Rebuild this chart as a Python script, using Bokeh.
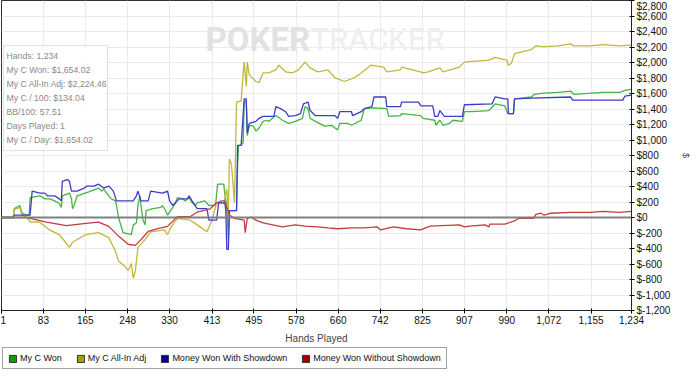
from bokeh.plotting import figure
from bokeh.layouts import column
from bokeh.models import (Range1d, FixedTicker, Span, Label, BoxAnnotation,
                          Legend, LegendItem)
from bokeh.embed import file_html
from bokeh.resources import INLINE

# ---------------- data ----------------
x_ticks = [1, 83, 165, 248, 330, 413, 495, 578, 660, 742, 825, 907, 990, 1072, 1155, 1234]
y_ticks = list(range(-1200, 2801, 200))

won_hands = [1, 24, 26, 37, 41, 51, 55, 57, 76, 86, 95, 105, 114, 118, 120, 130, 134, 138, 140, 143,
             149, 172, 191, 197, 201, 211, 216, 224, 226, 230, 239, 255, 259, 265, 268, 272, 274, 278,
             282, 284, 297, 313, 316, 322, 326, 332, 341, 345, 355, 361, 368, 374, 380, 384, 399, 407,
             420, 424, 436, 438, 442, 445, 447, 461, 463, 465, 470, 474, 476, 480, 482, 486, 494, 499,
             505, 513, 519, 524, 538, 551, 563, 576, 590, 595, 601, 605, 615, 634, 647, 659, 663, 678,
             686, 705, 711, 730, 755, 759, 782, 784, 821, 826, 849, 851, 859, 865, 878, 884, 903, 907,
             922, 955, 967, 986, 992, 1003, 1005, 1038, 1044, 1063, 1090, 1115, 1121, 1178, 1211, 1221,
             1234]
won_vals = [0, 0, 115, 155, 55, 30, 30, 255, 280, 240, 240, 215, 180, 130, 280, 305, 315, 240, 115, 155,
            280, 330, 380, 340, 365, 280, 240, 215, 155, 0, -195, -220, -95, -70, 155, 280, 155, -35,
            -95, 90, 115, 130, 155, 90, 30, 90, 180, 255, 240, 215, 255, 190, 155, 190, 215, 155,
            160, 430, 430, 315, 130, -285, 90, 90, 655, 930, 930, 965, 1490, 1505, 1055, 1190, 1180, 1115,
            1155, 1240, 1255, 1240, 1315, 1255, 1215, 1240, 1280, 1430, 1405, 1280, 1240, 1180, 1190, 1130, 1215, 1215,
            1190, 1255, 1405, 1415, 1405, 1305, 1315, 1340, 1315, 1280, 1255, 1190, 1255, 1190, 1215, 1255, 1240, 1365,
            1365, 1380, 1465, 1440, 1340, 1340, 1530, 1555, 1590, 1605, 1615, 1630, 1590, 1615, 1615, 1640,
            1654.02]

adj_hands = [1, 24, 26, 37, 41, 51, 57, 76, 95, 114, 124, 134, 140, 166, 191, 211, 224, 230, 243, 249,
             255, 259, 263, 268, 282, 293, 320, 326, 332, 345, 370, 384, 403, 413, 422, 436, 442, 445,
             447, 451, 457, 461, 470, 474, 476, 480, 482, 486, 499, 505, 513, 524, 538, 544, 557, 570,
             582, 595, 605, 620, 640, 653, 672, 692, 705, 724, 749, 755, 782, 784, 821, 826, 836, 859,
             865, 884, 897, 907, 922, 955, 967, 990, 993, 999, 1005, 1038, 1047, 1063, 1090, 1115, 1121,
             1153, 1178, 1211, 1234]
adj_vals = [0, 0, 100, 130, 30, 0, -55, -60, -160, -220, -300, -385, -320, -220, -195, -260, -435, -560, -635, -685,
            -595, -785, -685, -385, -285, -185, -160, -220, -135, -10, -35, -95, -185, -35, 190, 180, 365, 65,
            755, 690, 190, 1490, 1505, 1865, 2005, 1690, 2005, 1840, 1755, 1740, 1865, 1865, 1905, 1965, 1880, 1865,
            1905, 2005, 1930, 1880, 1905, 1805, 1755, 1805, 1865, 1965, 1940, 1880, 1905, 1940, 1880, 1865, 1880, 1930,
            1880, 1915, 1940, 2005, 2015, 2030, 2065, 2030, 1965, 1990, 2115, 2165, 2215, 2205, 2215, 2240, 2215,
            2215, 2230, 2215, 2224.46]

sd_hands = [1, 24, 26, 57, 61, 76, 86, 91, 105, 114, 118, 120, 130, 134, 138, 149, 163, 168, 182, 191,
            201, 211, 220, 226, 259, 265, 268, 274, 288, 293, 316, 326, 330, 336, 345, 349, 365, 368, 374,
            384, 403, 407, 422, 426, 438, 440, 442, 445, 447, 461, 463, 470, 476, 480, 482, 486, 499, 505,
            513, 534, 538, 547, 557, 563, 576, 586, 592, 601, 605, 615, 653, 659, 663, 686, 688, 705, 711,
            726, 730, 753, 755, 782, 784, 817, 822, 845, 849, 855, 859, 868, 903, 907, 961, 967, 986, 992,
            993, 1003, 1005, 1038, 1115, 1119, 1217, 1221, 1234]
sd_vals = [0, 0, 30, 30, 340, 315, 315, 280, 280, 240, 215, 465, 490, 465, 340, 340, 380, 405, 405, 430,
           380, 405, 340, 215, 215, 280, 340, 215, 215, 340, 315, 340, 215, 155, 215, 240, 240, 280, 215,
           115, 115, -35, -35, 190, 190, 90, -410, -410, 90, 90, 930, 930, 1530, 1530, 1090, 1215, 1240, 1280,
           1305, 1305, 1430, 1405, 1365, 1305, 1315, 1340, 1465, 1490, 1380, 1315, 1315, 1280, 1365, 1365, 1315, 1365, 1405,
           1430, 1555, 1555, 1430, 1430, 1490, 1490, 1440, 1440, 1305, 1305, 1380, 1305, 1305, 1455, 1465, 1555, 1530, 1530,
           1340, 1340, 1530, 1540, 1555, 1515, 1515, 1565, 1580]

nsd_hands = [1, 51, 57, 89, 128, 166, 191, 211, 230, 249, 263, 274, 288, 307, 326, 345, 370, 384, 409, 422,
             432, 438, 442, 447, 457, 476, 478, 482, 490, 499, 513, 532, 551, 576, 595, 620, 640, 659, 686,
             711, 736, 743, 768, 794, 821, 840, 897, 907, 917, 947, 955, 957, 986, 1005, 1013, 1042, 1047,
             1057, 1063, 1076, 1115, 1153, 1178, 1211, 1234]
nsd_vals = [0, 0, -10, -60, -105, -75, -60, -115, -240, -345, -360, -285, -180, -145, -115, 10, 10, 70, 110, 190,
            215, 215, 130, 30, -10, -35, -195, -10, 5, -35, -70, -95, -120, -95, -110, -120, -135, -145, -135,
            -135, -120, -160, -120, -145, -160, -110, -95, -120, -110, -95, -120, -85, -85, -45, -10, -10, 40,
            55, 30, 55, 65, 65, 80, 65, 79]

series_names = ["My C Won", "My C All-In Adj", "Money Won With Showdown", "Money Won Without Showdown"]
line_colors = ["#44b444", "#c0b83c", "#3c3cc8", "#c43c3c"]
legend_colors = ["#00a000", "#a0a000", "#0000a0", "#a00000"]

info_lines = ["Hands: 1,234", "My C Won: $1,654.02", "My C All-In Adj: $2,224.46",
              "My C / 100: $134.04", "BB/100: 57.51", "Days Played: 1", "My C / Day: $1,654.02"]

FONT = "Liberation Sans"
NAN = float("nan")

# ---------------- main figure ----------------
FW, FH = 630, 310
p = figure(frame_width=FW, frame_height=FH, x_range=Range1d(1, 1234), y_range=Range1d(-1200, 2800),
           output_backend="svg", toolbar_location=None, y_axis_location="right",
           min_border_left=1, min_border_top=0, min_border_right=2, min_border_bottom=0,
           background_fill_color="white", border_fill_color="white")
p.outline_line_color = "#333333"
p.outline_line_width = 1

p.xgrid.grid_line_color = "#ebebeb"
p.ygrid.grid_line_color = "#ebebeb"

xa = p.xaxis[0]
xa.ticker = FixedTicker(ticks=x_ticks)
xa.major_label_overrides = {t: f"{t:,}" for t in x_ticks}
xa.axis_label = "Hands Played"
xa.axis_label_text_font_style = "normal"
xa.axis_label_text_font_size = "10px"
xa.axis_label_text_font = FONT
xa.axis_label_standoff = 6
xa.major_label_text_font = FONT
xa.major_label_text_font_size = "10px"
xa.major_label_text_color = "#111111"
xa.major_label_standoff = 2
xa.major_tick_in = 2
xa.major_tick_out = 3
xa.minor_tick_line_color = None
xa.axis_line_color = "#222222"

ya = p.yaxis[0]
ya.ticker = FixedTicker(ticks=y_ticks)
ya.major_label_overrides = {t: f"${t:,}" for t in y_ticks}
ya.axis_label = "$"
ya.axis_label_text_font_style = "normal"
ya.axis_label_text_font_size = "9px"
ya.axis_label_text_font = FONT
ya.axis_label_standoff = 8
ya.major_label_text_font = FONT
ya.major_label_text_font_size = "10px"
ya.major_label_text_color = "#111111"
ya.major_label_standoff = 2
ya.major_tick_in = 2
ya.major_tick_out = 3
ya.minor_tick_line_color = None
ya.axis_line_color = "#222222"

# watermark
p.add_layout(Label(x=204, y=FH - 39, x_units="screen", y_units="screen", text="POKER",
                   text_font="Roboto", text_font_style="bold", text_font_size="33px",
                   text_color="#e2e2e2", text_baseline="middle", level="underlay"))
p.add_layout(Label(x=309, y=FH - 39, x_units="screen", y_units="screen", text="TRACKER",
                   text_font="Roboto", text_font_size="31px",
                   text_color="#eeeeee", text_baseline="middle", level="underlay"))

# zero line
p.add_layout(Span(location=0, dimension="width", line_color="#808080", line_width=2))

# series lines
series = [(won_hands, won_vals), (adj_hands, adj_vals), (sd_hands, sd_vals), (nsd_hands, nsd_vals)]
for (hx, hv), col in zip(series, line_colors):
    p.line(hx, hv, line_color=col, line_width=1.3)

# info box
p.add_layout(BoxAnnotation(left=2, right=106, top=FH - 45, bottom=FH - 150,
                           left_units="screen", right_units="screen",
                           top_units="screen", bottom_units="screen",
                           fill_color="white", fill_alpha=0.85,
                           line_color="#a0a0a0", line_width=1))
for i, t in enumerate(info_lines):
    p.add_layout(Label(x=5, y=FH - 55 - 14 * i, x_units="screen", y_units="screen", text=t,
                       text_font=FONT, text_font_size="8.7px", text_color="#8a8a8a",
                       text_baseline="middle"))

# ---------------- legend strip ----------------
lg = figure(frame_width=680, frame_height=26, x_range=Range1d(0, 1), y_range=Range1d(0, 1),
            output_backend="svg", toolbar_location=None,
            min_border_left=1, min_border_top=0, min_border_right=0, min_border_bottom=0,
            x_axis_location=None, y_axis_location=None,
            background_fill_color="white", border_fill_color="white")
lg.outline_line_color = None
lg.xgrid.visible = False
lg.ygrid.visible = False
items = []
for name, col in zip(series_names, legend_colors):
    r = lg.quad(left=[NAN], right=[NAN], top=[NAN], bottom=[NAN], fill_color=col, line_color="#333333")
    items.append(LegendItem(label=name, renderers=[r]))
legend = Legend(items=items, orientation="horizontal", location="top_left",
                label_text_font=FONT, label_text_font_size="9px", label_text_color="#111111",
                glyph_width=9, glyph_height=9, label_standoff=3, spacing=14,
                padding=5, margin=1, border_line_color="#444444", border_line_width=1,
                label_height=10, background_fill_color="white")
lg.add_layout(legend, "center")

layout = column(p, lg, spacing=0)
open("out.html", "w").write(file_html(layout, INLINE))
